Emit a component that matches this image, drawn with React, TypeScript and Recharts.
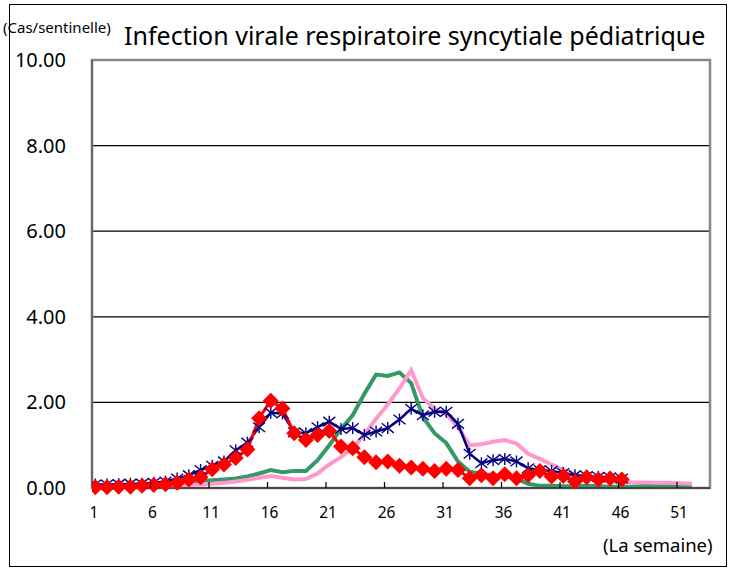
import { LineChart, Line, XAxis, YAxis, CartesianGrid, ReferenceArea } from 'recharts';

// ---------------------------------------------------------------------------
// Data (cases per sentinel site, by week)
// ---------------------------------------------------------------------------

const weeks = [
  1, 2, 3, 4, 5, 6, 7, 8, 9, 10, 11, 12, 13, 14, 15, 16, 17, 18, 19, 20, 21, 22, 23, 24, 25, 26,
  27, 28, 29, 30, 31, 32, 33, 34, 35, 36, 37, 38, 39, 40, 41, 42, 43, 44, 45, 46, 47, 48, 49, 50, 51, 52,
];

const current = [
  0.02, 0.02, 0.03, 0.03, 0.05, 0.07, 0.09, 0.12, 0.2, 0.25, 0.44, 0.55, 0.7, 0.9, 1.63, 2.04, 1.86,
  1.28, 1.12, 1.24, 1.33, 0.97, 0.93, 0.72, 0.6, 0.62, 0.52, 0.48, 0.45, 0.4, 0.45, 0.42, 0.23, 0.3,
  0.23, 0.32, 0.23, 0.3, 0.4, 0.27, 0.28, 0.15, 0.25, 0.2, 0.22, 0.2,
];

const previous = [
  0.08, 0.08, 0.09, 0.1, 0.1, 0.12, 0.15, 0.22, 0.3, 0.42, 0.52, 0.62, 0.88, 1.06, 1.42, 1.76, 1.74,
  1.3, 1.28, 1.42, 1.55, 1.38, 1.4, 1.24, 1.32, 1.4, 1.6, 1.85, 1.7, 1.78, 1.78, 1.5, 0.8, 0.58, 0.65,
  0.68, 0.62, 0.46, 0.42, 0.4, 0.35, 0.3, 0.28, 0.26, 0.25, 0.22,
];

const twoYearsAgo = [
  0.03, 0.04, 0.05, 0.06, 0.08, 0.1, 0.12, 0.14, 0.15, 0.16, 0.18, 0.2, 0.22, 0.27, 0.34, 0.42, 0.37,
  0.4, 0.4, 0.65, 1.0, 1.38, 1.7, 2.2, 2.65, 2.62, 2.7, 2.45, 1.65, 1.28, 1.05, 0.62, 0.38, 0.33, 0.3,
  0.28, 0.22, 0.1, 0.05, 0.05, 0.04, 0.04, 0.05, 0.04, 0.03, 0.03, 0.03, 0.05, 0.07, 0.07, 0.05, 0.04,
];

const threeYearsAgo = [
  0.02, 0.02, 0.02, 0.03, 0.03, 0.04, 0.05, 0.06, 0.07, 0.08, 0.1, 0.12, 0.15, 0.19, 0.24, 0.28, 0.24,
  0.2, 0.21, 0.34, 0.55, 0.72, 0.93, 1.25, 1.62, 1.95, 2.33, 2.75, 2.1, 1.85, 1.72, 1.42, 1.0, 1.02,
  1.08, 1.12, 1.04, 0.8, 0.68, 0.55, 0.42, 0.32, 0.24, 0.2, 0.16, 0.14, 0.13, 0.13, 0.12, 0.12, 0.11, 0.1,
];

const yTicks = [0, 2, 4, 6, 8, 10];
const xTickWeeks = [1, 6, 11, 16, 21, 26, 31, 36, 41, 46, 51];

// ---------------------------------------------------------------------------
// Helpers
// ---------------------------------------------------------------------------

// labels sit slightly left of the data points in the original
const TICK_SHIFT = 0.28;
const X_DOMAIN: [number, number] = [1 - TICK_SHIFT, 53.54];

const data = weeks.map((w, i) => ({
  week: w,
  current: current[i] ?? null,
  previous: previous[i] ?? null,
  twoYearsAgo: twoYearsAgo[i] ?? null,
  threeYearsAgo: threeYearsAgo[i] ?? null,
}));

const FONT = '"Noto Sans", sans-serif';

function XTick({ x, y, payload, index }: any) {
  return (
    <g>
      {index > 0 && <line x1={x} x2={x} y1={y} y2={y - 6} stroke="#000" strokeWidth={1.2} />}
      <text x={x + 2} y={y + 30} textAnchor="middle" fontSize={15.5} fontFamily={FONT} fill="#000">
        {Math.round(payload.value + TICK_SHIFT)}
      </text>
    </g>
  );
}

function YTick({ x, y, payload }: any) {
  return (
    <text x={x} y={y + 7} textAnchor="end" fontSize={20} fontFamily={FONT} fill="#000">
      {payload.value.toFixed(2)}
    </text>
  );
}

function diamond(props: any) {
  const { cx, cy, index } = props;
  if (cx == null || cy == null) return <g key={`d-${index}`} />;
  const s = 8;
  return (
    <polygon
      key={`d-${index}`}
      points={`${cx},${cy - s} ${cx + s},${cy} ${cx},${cy + s} ${cx - s},${cy}`}
      fill="#ff0000"
    />
  );
}

function star(props: any) {
  const { cx, cy, index } = props;
  if (cx == null || cy == null) return <g key={`s-${index}`} />;
  const s = 6;
  return (
    <g key={`s-${index}`} stroke="#000080" strokeWidth={1.4}>
      <line x1={cx} x2={cx} y1={cy - s} y2={cy + s} />
      <line x1={cx - s} x2={cx + s} y1={cy - s * 0.8} y2={cy + s * 0.8} />
      <line x1={cx - s} x2={cx + s} y1={cy + s * 0.8} y2={cy - s * 0.8} />
    </g>
  );
}

// ---------------------------------------------------------------------------
// Component
// ---------------------------------------------------------------------------

export default function App() {
  return (
    <div style={{ position: 'absolute', left: 0, top: 0, width: 733, height: 569, background: '#fff' }}>
      <div
        style={{
          position: 'absolute',
          left: 9,
          top: 4,
          width: 718,
          height: 563,
          border: '1px solid #000',
          boxSizing: 'border-box',
        }}
      />
      <LineChart width={733} height={569} data={data} margin={{ top: 60, right: 23, bottom: 41, left: 12 }}>
        <CartesianGrid horizontal vertical={false} stroke="#000" strokeWidth={1.3} />
        <ReferenceArea
          x1={X_DOMAIN[0]}
          x2={X_DOMAIN[1]}
          y1={0}
          y2={10}
          fill="none"
          stroke="#888"
          strokeWidth={2.5}
        />
        <XAxis
          type="number"
          dataKey="week"
          domain={X_DOMAIN}
          ticks={xTickWeeks.map(w => w - TICK_SHIFT)}
          allowDataOverflow
          tick={<XTick />}
          tickLine={false}
          tickSize={0}
          tickMargin={0}
          axisLine={{ stroke: '#333', strokeWidth: 1.5 }}
          height={40}
          interval={0}
        />
        <YAxis
          domain={[0, 10]}
          ticks={yTicks}
          tick={<YTick />}
          tickLine={false}
          tickSize={0}
          tickMargin={26}
          axisLine={{ stroke: '#666', strokeWidth: 2 }}
          width={80}
          interval={0}
        />
        <Line
          type="linear"
          dataKey="twoYearsAgo"
          stroke="#339966"
          strokeWidth={4}
          dot={false}
          isAnimationActive={false}
        />
        <Line
          type="linear"
          dataKey="threeYearsAgo"
          stroke="#ff99cc"
          strokeWidth={4}
          dot={false}
          isAnimationActive={false}
        />
        <Line
          type="linear"
          dataKey="previous"
          stroke="#000080"
          strokeWidth={2.5}
          dot={star}
          isAnimationActive={false}
        />
        <Line
          type="linear"
          dataKey="current"
          stroke="#ff0000"
          strokeWidth={3}
          dot={diamond}
          isAnimationActive={false}
        />
      </LineChart>
      <div style={{ position: 'absolute', left: 3, top: 17, fontFamily: FONT, fontSize: 15, lineHeight: '20px', whiteSpace: 'nowrap' }}>
        (Cas/sentinelle)
      </div>
      <div style={{ position: 'absolute', left: 124, top: 20, fontFamily: FONT, fontSize: 25, lineHeight: '30px', whiteSpace: 'nowrap' }}>
        Infection virale respiratoire syncytiale pédiatrique
      </div>
      <div style={{ position: 'absolute', left: 603, top: 534, fontFamily: FONT, fontSize: 18.5, lineHeight: '22px', whiteSpace: 'nowrap' }}>
        (La semaine)
      </div>
    </div>
  );
}
